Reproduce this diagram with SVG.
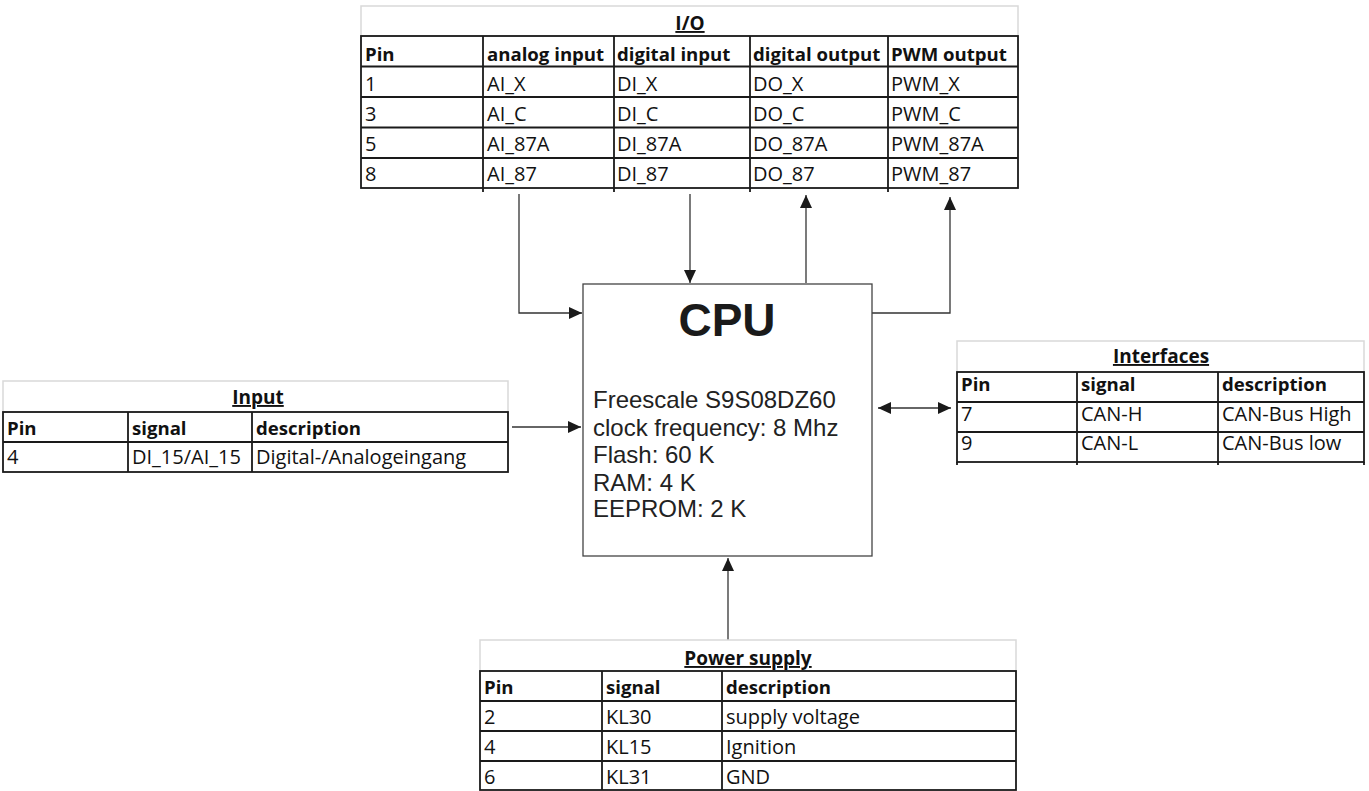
<svg xmlns="http://www.w3.org/2000/svg" width="1369" height="791" viewBox="0 0 1369 791">
<style>
.bg{fill:#fff}
.grid{fill:none;stroke:#d9d9d9;stroke-width:1.5}
.tb{fill:none;stroke:#1a1a1a;stroke-width:1.8}
.t{font-family:"Open Sans",Lato,sans-serif;font-size:20px;fill:#111}
.h{font-family:"Open Sans",Lato,sans-serif;font-size:18.6px;font-weight:bold;fill:#111}
.ttl{font-family:"Open Sans",Lato,sans-serif;font-size:19px;font-weight:bold;fill:#111;text-anchor:middle;text-decoration:underline}
.cpu{fill:#fff;stroke:#444;stroke-width:1.3}
.cpuT{font-family:"Liberation Sans",Arial,sans-serif;font-size:46px;font-weight:bold;fill:#1a1a1a;text-anchor:middle}
.cpuB{font-family:"Liberation Sans",Arial,sans-serif;font-size:24px;fill:#222}
.c{fill:none;stroke:#333;stroke-width:1.3}
</style>
<defs>
<marker id="ah" markerWidth="14" markerHeight="12" refX="13" refY="6" orient="auto" markerUnits="userSpaceOnUse">
<path d="M0,0 L13,6 L0,12 Z" fill="#1a1a1a"/>
</marker>
<marker id="as" markerWidth="14" markerHeight="12" refX="0" refY="6" orient="auto" markerUnits="userSpaceOnUse">
<path d="M13,0 L0,6 L13,12 Z" fill="#1a1a1a"/>
</marker>
</defs>
<rect class="bg" x="0" y="0" width="1369" height="791"/>

<g id="connectors">
<path class="c" d="M519,194 V313 H582" marker-end="url(#ah)"/>
<path class="c" d="M690,194 V283" marker-end="url(#ah)"/>
<path class="c" d="M806,283 V195" marker-end="url(#ah)"/>
<path class="c" d="M872,313 H950 V197" marker-end="url(#ah)"/>
<path class="c" d="M512,427 H581" marker-end="url(#ah)"/>
<path class="c" d="M878,408 H951" marker-start="url(#as)" marker-end="url(#ah)"/>
<path class="c" d="M728,640 V558" marker-end="url(#ah)"/>
</g>

<g id="io">
<rect class="grid" x="361" y="6" width="657" height="30"/>
<text class="ttl" x="690" y="30">I/O</text>
<rect class="tb" x="361" y="36" width="657" height="152"/>
<path class="tb" d="M361,66.5 H1018 M361,97 H1018 M361,127.5 H1018 M361,158 H1018 M483,36 V192 M614,36 V192 M750,36 V192 M888,36 V192"/>
<text class="h" x="365" y="61">Pin</text>
<text class="h" x="487" y="61">analog input</text>
<text class="h" x="617" y="61">digital input</text>
<text class="h" x="753" y="61">digital output</text>
<text class="h" x="891" y="61">PWM output</text>
<text class="t" x="365" y="91">1</text><text class="t" x="487" y="91">AI_X</text><text class="t" x="617" y="91">DI_X</text><text class="t" x="753" y="91">DO_X</text><text class="t" x="891" y="91">PWM_X</text>
<text class="t" x="365" y="121">3</text><text class="t" x="487" y="121">AI_C</text><text class="t" x="617" y="121">DI_C</text><text class="t" x="753" y="121">DO_C</text><text class="t" x="891" y="121">PWM_C</text>
<text class="t" x="365" y="151">5</text><text class="t" x="487" y="151">AI_87A</text><text class="t" x="617" y="151">DI_87A</text><text class="t" x="753" y="151">DO_87A</text><text class="t" x="891" y="151">PWM_87A</text>
<text class="t" x="365" y="181">8</text><text class="t" x="487" y="181">AI_87</text><text class="t" x="617" y="181">DI_87</text><text class="t" x="753" y="181">DO_87</text><text class="t" x="891" y="181">PWM_87</text>
</g>

<g id="cpu">
<rect class="cpu" x="583" y="284" width="289" height="272"/>
<text class="cpuT" x="727" y="336">CPU</text>
<text class="cpuB" x="593" y="408">Freescale S9S08DZ60</text>
<text class="cpuB" x="593" y="436">clock frequency: 8 Mhz</text>
<text class="cpuB" x="593" y="463">Flash: 60 K</text>
<text class="cpuB" x="593" y="491">RAM: 4 K</text>
<text class="cpuB" x="593" y="517">EEPROM: 2 K</text>
</g>

<g id="input">
<rect class="grid" x="3" y="381" width="505" height="31"/>
<text class="ttl" x="258" y="404">Input</text>
<rect class="tb" x="3" y="412" width="505" height="60"/>
<path class="tb" d="M3,442 H508 M128,412 V472 M252,412 V472"/>
<text class="h" x="7" y="435">Pin</text>
<text class="h" x="132" y="435">signal</text>
<text class="h" x="256" y="435">description</text>
<text class="t" x="7" y="464">4</text>
<text class="t" x="132" y="464">DI_15/AI_15</text>
<text class="t" x="256" y="464">Digital-/Analogeingang</text>
</g>

<g id="interfaces">
<rect class="grid" x="957" y="341" width="407" height="31"/>
<text class="ttl" x="1161" y="363">Interfaces</text>
<rect class="tb" x="957" y="372" width="407" height="90"/>
<path class="tb" d="M957,402 H1364 M957,432 H1364 M1077,372 V465 M1218,372 V465 M957,462 V465 M1364,462 V465"/>
<text class="h" x="961" y="391">Pin</text>
<text class="h" x="1081" y="391">signal</text>
<text class="h" x="1222" y="391">description</text>
<text class="t" x="961" y="421">7</text>
<text class="t" x="1081" y="421">CAN-H</text>
<text class="t" x="1222" y="421">CAN-Bus High</text>
<text class="t" x="961" y="450">9</text>
<text class="t" x="1081" y="450">CAN-L</text>
<text class="t" x="1222" y="450">CAN-Bus low</text>
</g>

<g id="power">
<rect class="grid" x="480" y="640" width="536" height="31"/>
<text class="ttl" x="748" y="665">Power supply</text>
<rect class="tb" x="480" y="671" width="536" height="119"/>
<path class="tb" d="M480,701 H1016 M480,731 H1016 M480,761 H1016 M602,671 V790 M722,671 V790"/>
<text class="h" x="484" y="694">Pin</text>
<text class="h" x="606" y="694">signal</text>
<text class="h" x="726" y="694">description</text>
<text class="t" x="484" y="724">2</text><text class="t" x="606" y="724">KL30</text><text class="t" x="726" y="724">supply voltage</text>
<text class="t" x="484" y="754">4</text><text class="t" x="606" y="754">KL15</text><text class="t" x="726" y="754">Ignition</text>
<text class="t" x="484" y="784">6</text><text class="t" x="606" y="784">KL31</text><text class="t" x="726" y="784">GND</text>
</g>
</svg>
